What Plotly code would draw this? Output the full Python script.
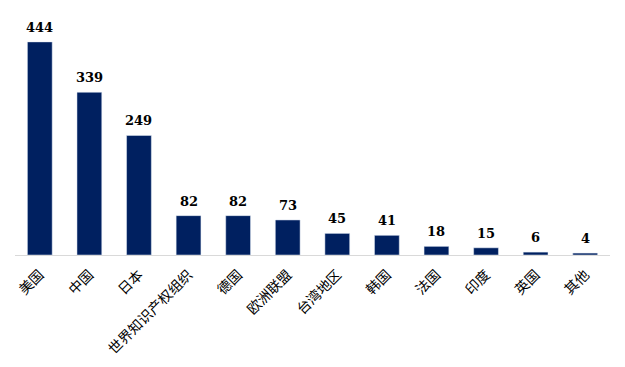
import plotly.graph_objects as go

categories = ["美国", "中国", "日本", "世界知识产权组织", "德国", "欧洲联盟", "台湾地区", "韩国", "法国", "印度", "英国", "其他"]
values = [444, 339, 249, 82, 82, 73, 45, 41, 18, 15, 6, 4]

fig = go.Figure(go.Bar(x=categories, y=values, marker_color="#002060", width=0.5))

for c, v in zip(categories, values):
    fig.add_annotation(x=c, y=v, text=f"<b>{v}</b>", showarrow=False, yanchor="bottom", yshift=5,
                       font=dict(family="DejaVu Serif", size=13, color="black"))

fig.update_layout(
    width=617, height=359,
    margin=dict(l=7, r=15, t=7, b=112),
    plot_bgcolor="white", paper_bgcolor="white",
    showlegend=False,
    xaxis=dict(tickangle=-45, showline=True, linecolor="#d9d9d9", linewidth=1, ticks="",
               automargin=False, ticklabelstandoff=5,
               tickfont=dict(family="Noto Sans CJK SC", size=14, color="black")),
    yaxis=dict(range=[0, 500], visible=False, showgrid=False, automargin=False),
)
fig.write_html("out.html")
